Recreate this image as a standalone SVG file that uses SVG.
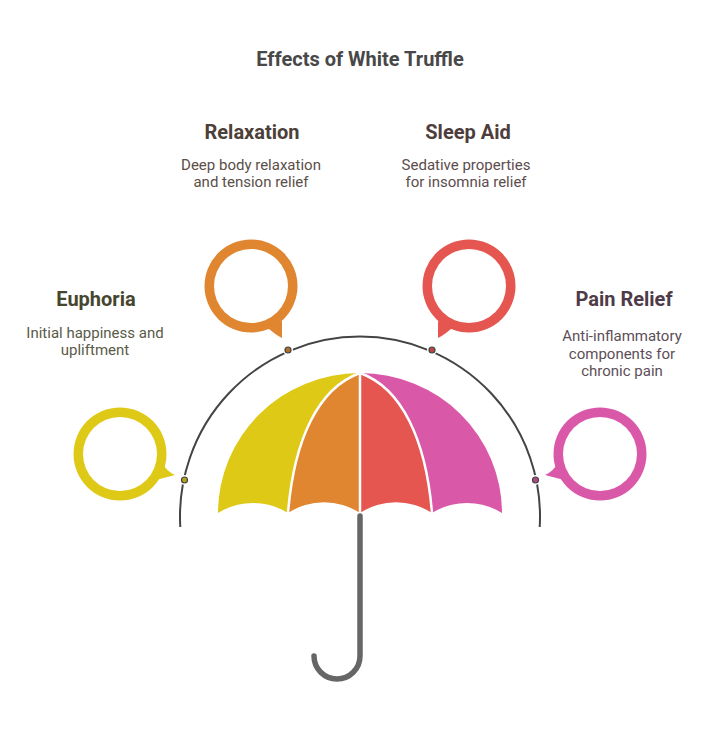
<svg xmlns="http://www.w3.org/2000/svg" width="714" height="733" viewBox="0 0 714 733">
<style>
  text { font-family: Roboto, "Liberation Sans", sans-serif; text-anchor: middle; }
  .title { font-size: 20px; font-weight: bold; fill: #484848; }
  .head { font-size: 20px; font-weight: bold; }
  .desc { font-size: 15px; }
  .seam { fill: none; stroke: #ffffff; stroke-width: 2.5; }
  .hole { fill: #ffffff; }
</style>
<rect width="714" height="733" fill="#ffffff"/>
<text class="title" x="360" y="66">Effects of White Truffle</text>

<g id="canopy">
  <path fill="#dec916" d="M360,373 A142,140 0 0 0 218,513 A66,66 0 0 1 288,513 C294,440 318,388 360,373 Z"/>
  <path fill="#e08530" d="M360,373 C318,388 294,440 288,513 A66,66 0 0 1 360,513 Z"/>
  <path fill="#e55650" d="M360,373 C402,388 426,440 432,513 A66,66 0 0 0 360,513 Z"/>
  <path fill="#da58a8" d="M360,373 A142,140 0 0 1 502,513 A66,66 0 0 0 432,513 C426,440 402,388 360,373 Z"/>
  <path class="seam" d="M360,373 C318,388 294,440 288,513"/>
  <path class="seam" d="M360,373 C402,388 426,440 432,513"/>
  <path class="seam" d="M360,371 V514"/>
</g>
<g id="handle">
  <path d="M360,516 V656 A23,23 0 0 1 314,656" fill="none" stroke="#666666" stroke-width="5.5" stroke-linecap="round"/>
</g>

<g id="connectors">
  <path d="M180.3,527 A180,180 0 1 1 539.7,527" fill="none" stroke="#444444" stroke-width="2"/>
  <g fill="#ffffff">
    <circle cx="184.5" cy="480" r="5"/>
    <circle cx="288" cy="350" r="5"/>
    <circle cx="432" cy="350" r="5"/>
    <circle cx="535.5" cy="480" r="5"/>
  </g>
  <g stroke="#444444" stroke-width="1.2">
    <circle cx="184.5" cy="480" r="3" fill="#b3a31a"/>
    <circle cx="288" cy="350" r="3" fill="#b56b2a"/>
    <circle cx="432" cy="350" r="3" fill="#b84742"/>
    <circle cx="535.5" cy="480" r="3" fill="#b04888"/>
  </g>
</g>

<g id="euphoria">
  <circle cx="120" cy="454" r="46.5" fill="#dec916"/>
  <path d="M161,461 Q166,471 175,475 L156,480 Z" fill="#dec916"/>
  <circle class="hole" cx="120" cy="454" r="37"/>
  <text class="head" x="96" y="306" fill="#46462f">Euphoria</text>
  <text class="desc" x="95" y="338" fill="#5a5a48">Initial happiness and</text>
  <text class="desc" x="95" y="355" fill="#5a5a48">upliftment</text>
</g>

<g id="relaxation">
  <circle cx="251" cy="286" r="46.5" fill="#e08530"/>
  <path d="M266,326 Q274,334 282,338 L282,321 Z" fill="#e08530"/>
  <circle class="hole" cx="251" cy="286" r="37"/>
  <text class="head" x="252" y="139" fill="#4c4038">Relaxation</text>
  <text class="desc" x="251" y="170" fill="#5a4f48">Deep body relaxation</text>
  <text class="desc" x="251" y="187" fill="#5a4f48">and tension relief</text>
</g>

<g id="sleep-aid">
  <circle cx="469" cy="286" r="46.5" fill="#e55650"/>
  <path d="M454,326 Q446,334 438,338 L438,321 Z" fill="#e55650"/>
  <circle class="hole" cx="469" cy="286" r="37"/>
  <text class="head" x="468" y="139" fill="#4e3d3d">Sleep Aid</text>
  <text class="desc" x="466" y="170" fill="#5c4d4d">Sedative properties</text>
  <text class="desc" x="466" y="187" fill="#5c4d4d">for insomnia relief</text>
</g>

<g id="pain-relief">
  <circle cx="600" cy="454" r="46.5" fill="#da58a8"/>
  <path d="M559,461 Q554,471 545,475 L564,480 Z" fill="#da58a8"/>
  <circle class="hole" cx="600" cy="454" r="37"/>
  <text class="head" x="624" y="306" fill="#4e3b47">Pain Relief</text>
  <text class="desc" x="622" y="341" fill="#5d4e58">Anti-inflammatory</text>
  <text class="desc" x="622" y="359" fill="#5d4e58">components for</text>
  <text class="desc" x="622" y="376" fill="#5d4e58">chronic pain</text>
</g>
</svg>
